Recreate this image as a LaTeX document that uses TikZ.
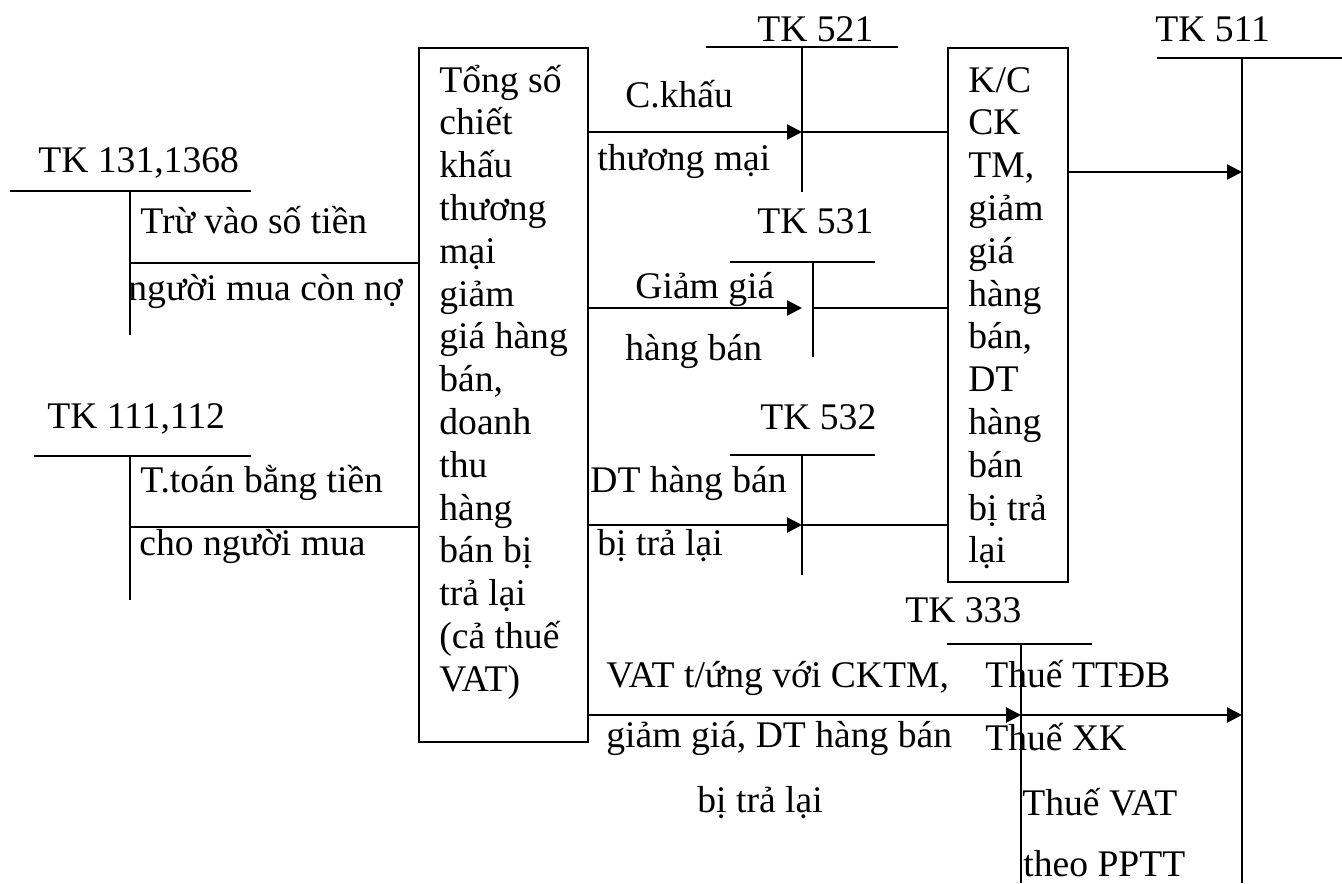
\documentclass[tikz,border=0pt]{standalone}
\usepackage{fontspec}
\setmainfont{Liberation Serif}
\usetikzlibrary{arrows.meta}
\tikzset{
    txt/.style={inner sep=0pt, anchor=base west, font=\fontsize{18.8}{21.4}\selectfont},
    multitxt/.style={txt, text width=#1, align=flush left},
    tbox/.style={rectangle, draw, line width=0.9pt, inner sep=0pt, anchor=north west},
    tline/.style={line width=0.9pt},
    flow/.style={-{Triangle[length=7.5pt,width=7.5pt]}, line width=1.3pt},
}

\begin{document}
\begin{tikzpicture}[x=0.5pt, y=-0.5pt]
    \useasboundingbox (0,0) rectangle (1342,883);

    % boxes
    \node[tbox, minimum width=84.5pt, minimum height=347pt] (tong) at (418,47) {};
    \node[multitxt=70pt] (tongtxt) at (439,92) {Tổng số\\chiết\\khấu\\thương\\mại\\giảm\\giá hàng\\bán,\\doanh\\thu\\hàng\\bán bị\\trả lại\\(cả thuế\\VAT)};
    \node[tbox, minimum width=60pt, minimum height=267pt] (kc) at (947,47) {};
    \node[multitxt=45pt] (kctxt) at (968,92) {K/C\\CK\\TM,\\giảm\\giá\\hàng\\bán,\\DT\\hàng\\bán\\bị trả\\lại};

    % TK 131,1368
    \node[txt] (n131) at (38,172) {TK 131,1368};
    \coordinate (t131) at (130,191);
    \coordinate (c131) at (130,263);
    \draw[tline] (10,191) -- (251,191);
    \draw[tline] (t131) -- (130,335);
    \draw[tline] (c131) -- (c131 -| tong.west);
    \node[txt] (d131a) at (140,233) {Trừ vào số tiền};
    \node[txt] (d131b) at (128,300) {người mua còn nợ};

    % TK 111,112
    \node[txt] (n111) at (47,428) {TK 111,112};
    \coordinate (t111) at (130,456);
    \coordinate (c111) at (130,527);
    \draw[tline] (34,456) -- (251,456);
    \draw[tline] (t111) -- (130,600);
    \draw[tline] (c111) -- (c111 -| tong.west);
    \node[txt] (d111a) at (140,492) {T.toán bằng tiền};
    \node[txt] (d111b) at (139,555) {cho người mua};

    % TK 521
    \node[txt] (n521) at (757,42) {TK 521};
    \coordinate (t521) at (802,47);
    \coordinate (e521) at (802,132);
    \draw[tline] (706,47) -- (898,47);
    \draw[tline] (t521) -- (802,192);
    \draw[flow] (e521 -| tong.east) -- (e521);
    \draw[tline] (e521) -- (e521 -| kc.west);
    \node[txt] (d521a) at (625,107) {C.khấu};
    \node[txt] (d521b) at (597,170) {thương mại};

    % TK 531
    \node[txt] (n531) at (757,233) {TK 531};
    \coordinate (t531) at (813,262);
    \coordinate (e531) at (802,308);
    \coordinate (v531) at (813,308);
    \draw[tline] (730,262) -- (875,262);
    \draw[tline] (t531) -- (813,357);
    \draw[flow] (e531 -| tong.east) -- (e531);
    \draw[tline] (v531) -- (v531 -| kc.west);
    \node[txt] (d531a) at (635,298) {Giảm giá};
    \node[txt] (d531b) at (625,360) {hàng bán};

    % TK 532
    \node[txt] (n532) at (760,429) {TK 532};
    \coordinate (t532) at (802,455);
    \coordinate (e532) at (802,525);
    \draw[tline] (730,455) -- (875,455);
    \draw[tline] (t532) -- (802,575);
    \draw[flow] (e532 -| tong.east) -- (e532);
    \draw[tline] (e532) -- (e532 -| kc.west);
    \node[txt] (d532a) at (590,492) {DT hàng bán};
    \node[txt] (d532b) at (597,555) {bị trả lại};

    % TK 511
    \node[txt] (n511) at (1155,42) {TK 511};
    \coordinate (t511) at (1242,58);
    \coordinate (e511) at (1242,172);
    \draw[tline] (1157,58) -- (1342,58);
    \draw[tline] (t511) -- (1242,883);
    \draw[flow] (e511 -| kc.east) -- (e511);

    % TK 333
    \node[txt] (n333) at (905,622) {TK 333};
    \coordinate (t333) at (1021,644);
    \coordinate (e333) at (1021,715);
    \draw[tline] (947,644) -- (1092,644);
    \draw[tline] (t333) -- (1021,883);
    \draw[flow] (e333 -| tong.east) -- (e333);
    \draw[flow] (e333) -- (e333 -| e511);
    \node[txt] (d333a) at (606,687) {VAT t/ứng với CKTM,};
    \node[txt] (d333b) at (606,747) {giảm giá, DT hàng bán};
    \node[txt] (d333c) at (697,812) {bị trả lại};
    \node[txt] (tax1) at (985,687) {Thuế TTĐB};
    \node[txt] (tax2) at (985,750) {Thuế XK};
    \node[txt] (tax3) at (1022,815) {Thuế VAT};
    \node[txt] (tax4) at (1023,876) {theo PPTT};
\end{tikzpicture}
\end{document}
